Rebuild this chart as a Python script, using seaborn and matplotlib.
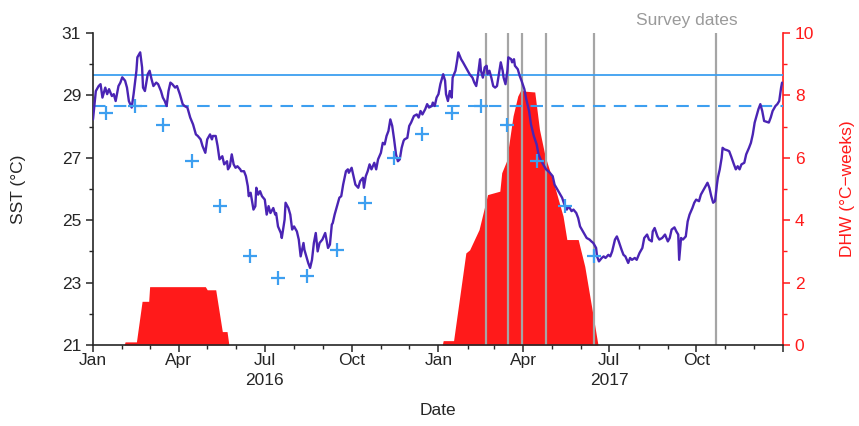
import matplotlib
matplotlib.use("Agg")
import matplotlib.pyplot as plt
import matplotlib.dates as mdates
from matplotlib.ticker import MultipleLocator, FuncFormatter
import pandas as pd
import seaborn as sns

# --- Data ---
START = pd.Timestamp("2016-01-01")

# daily-ish SST trace, days since 2016-01-01
sst_day = [0, 3, 6, 8, 10, 13, 15, 17, 20, 22, 24, 27, 29, 31, 34, 36, 38, 41, 43, 46,
           47, 50, 52, 53, 55, 58, 60, 62, 64, 67, 69, 72, 74, 76, 78, 80, 82, 84, 87, 89,
           92, 95, 97, 100, 103, 106, 109, 111, 114, 116, 119,
           121, 124, 126, 127, 130, 132, 134, 137, 139, 142, 143, 145, 147, 149, 151, 153, 156, 157, 160, 162,
           164, 165, 167, 170, 172, 173, 175, 177, 179, 182, 184, 186, 188, 191, 193, 194, 196, 199, 200, 203,
           204, 207, 209, 211, 213, 216, 218, 220, 223, 224, 226, 228, 230, 232, 234, 236, 238, 240, 243,
           246, 247, 249, 251, 253, 254, 256, 259, 261, 263, 265, 268, 270, 271, 274, 276, 278, 281, 283, 286,
           287, 289, 291, 293, 295, 298, 300, 302, 305, 307, 309, 311, 313, 315, 317, 319, 321, 323, 325, 327,
           329, 330, 333, 335, 337, 340, 343, 345, 347, 349, 352, 354, 356, 359, 360, 362,
           364, 366, 368, 371, 373, 374, 376, 378, 380, 381, 384, 386, 387, 390, 392, 395, 397, 399, 402, 404,
           406, 408, 410, 411, 413, 415, 417, 418, 420, 422, 424, 426, 428, 430, 432, 434, 435, 437, 439, 440,
           443, 444, 446, 447, 450, 452, 454, 457, 459, 462, 464, 467, 470, 472, 475, 478, 480, 484,
           487, 489, 492, 494, 497, 500, 502, 504, 507, 509, 512, 514, 516, 519, 521, 523, 526, 528, 530, 533,
           534, 536, 539, 541, 543, 546, 548, 550, 553, 555, 557, 560, 562, 564, 567, 569, 571, 574, 576, 579,
           582, 584, 587, 589, 592, 593, 595, 598, 600, 603, 606,
           609, 611, 613, 616, 618, 620, 621, 623, 625, 628, 630, 632, 635, 637, 639, 642, 644, 647, 650, 651,
           653, 655, 657, 659, 661, 662, 664, 666, 667, 669, 672, 674, 676, 679, 681, 683, 685, 687, 690, 692,
           695, 697, 699, 701, 703, 705, 707, 709, 711, 713, 716, 718, 720, 723, 725, 727, 729, 730]
sst_val = [28.23, 29.14, 29.3, 29.36, 28.93, 29.25, 29.04, 29.2, 28.98, 29.04, 28.82, 29.3, 29.41, 29.58, 29.47, 29.25, 28.82, 28.61, 29.04, 29.79,
           30.22, 30.38, 29.9, 29.25, 29.14, 29.68, 29.79, 29.52, 29.3, 29.41, 29.36, 29.14, 28.93, 28.82, 28.66, 29.14, 29.41, 29.36, 29.25, 29.3,
           29.04, 28.72, 28.66, 28.61, 28.29, 28.07, 27.75, 27.7, 27.59, 27.38, 27.16,
           27.59, 27.75, 27.59, 27.7, 27.7, 27.38, 26.95, 27.05, 26.79, 26.89, 26.63, 26.73, 27.11, 26.79, 26.68, 26.73, 26.63, 26.57, 26.57, 26.41,
           26.09, 25.77, 25.88, 25.34, 25.45, 26.04, 25.82, 25.93, 25.77, 25.66, 25.18, 25.45, 25.23, 25.39, 25.18, 25.23, 24.8, 24.59, 24.43, 25.02,
           25.56, 25.39, 25.18, 24.7, 24.8, 24.64, 24.38, 23.84, 24.27, 24.05, 23.84, 23.63, 23.47, 23.73, 24.27, 24.59, 24.0, 24.27, 24.38,
           24.59, 24.43, 24.11, 24.22, 24.86, 24.91, 25.18, 25.5, 25.72, 25.77, 26.14, 26.57, 26.63, 26.52, 26.68, 26.41, 26.14, 26.04, 26.25, 26.36,
           26.04, 26.41, 26.57, 26.79, 26.63, 26.84, 26.63, 26.95, 27.16, 27.48, 27.43, 27.7, 27.86, 28.23, 28.02, 27.59, 27.11, 26.89, 26.95, 27.32,
           27.54, 27.59, 27.64, 28.02, 28.13, 28.34, 28.39, 28.29, 28.5, 28.39, 28.56, 28.72, 28.61, 28.66, 28.77, 28.66,
           28.93, 29.04, 29.36, 29.68, 29.47, 29.04, 28.82, 29.14, 28.93, 29.57, 29.79, 30.16, 30.38, 30.16, 30.06, 29.9, 29.79, 29.68, 29.57, 29.41,
           29.3, 29.68, 30.16, 29.79, 29.57, 29.9, 29.95, 29.68, 29.79, 29.57, 29.3, 29.25, 29.3, 29.68, 30.06, 29.79, 29.57, 29.36, 29.79, 30.22,
           30.16, 30.06, 30.16, 29.95, 29.84, 29.63, 29.47, 29.2, 28.88, 28.5, 28.07, 27.7, 27.43, 27.11, 26.89, 26.73, 26.63, 26.52,
           26.41, 26.14, 25.98, 25.88, 25.72, 25.45, 25.34, 25.45, 25.29, 25.34, 25.23, 25.07, 24.8, 24.64, 24.54, 24.43, 24.38, 24.32, 24.27, 24.11,
           23.84, 23.68, 23.79, 23.84, 23.79, 23.89, 23.84, 24.0, 24.38, 24.48, 24.32, 24.05, 23.89, 23.84, 23.63, 23.79, 23.73, 23.79, 23.73, 23.95,
           24.11, 24.43, 24.54, 24.38, 24.32, 24.64, 24.75, 24.48, 24.38, 24.43, 24.54,
           24.32, 24.43, 24.7, 24.77, 24.64, 24.54, 23.73, 24.43, 24.38, 24.48, 24.96, 25.18, 25.39, 25.56, 25.66, 25.61, 25.82, 25.98, 26.14, 26.2,
           26.04, 25.77, 25.56, 25.61, 26.14, 26.36, 26.63, 27.0, 27.32, 27.27, 27.24, 27.21, 27.05, 26.79, 26.63, 26.73, 26.63, 26.79, 26.84, 27.11,
           27.32, 27.48, 27.75, 28.13, 28.34, 28.56, 28.72, 28.5, 28.18, 28.16, 28.13, 28.29, 28.5, 28.66, 28.72, 28.82, 29.25, 29.41]

# monthly climatology (mid-month), Jan..Dec
clim_sst = [28.45, 28.65, 28.05, 26.9, 25.45, 23.85, 23.15, 23.2, 24.05, 25.55, 27.0, 27.75]
clim_months = 18  # Jan 2016 .. Jun 2017

# degree heating weeks, days since 2016-01-01
dhw_day = [33, 34, 46, 52, 59, 60, 119, 121, 130, 137, 142, 144,
           370, 371, 382, 395, 399, 409, 418, 431, 433, 438, 445, 450, 454, 456,
           468, 473, 479, 489, 498, 502, 514, 521, 530, 535]
dhw_val = [0, 0.1, 0.1, 1.4, 1.4, 1.87, 1.87, 1.77, 1.77, 0.43, 0.43, 0,
           0, 0.14, 0.14, 2.95, 3.05, 3.7, 4.82, 4.93, 5.52, 5.89, 7.34, 7.98, 8.22, 8.14,
           8.11, 6.91, 6.05, 5.09, 4.13, 3.38, 3.38, 2.52, 0.91, 0]

survey_dates = ["2017-02-20", "2017-03-16", "2017-03-30", "2017-04-25", "2017-06-15", "2017-10-22"]
year_labels = ["2016", "2017"]

mmm = 28.65              # max monthly mean
bleach = mmm + 1.0       # bleaching threshold

# --- Build frames ---
sst = pd.DataFrame({"date": START + pd.to_timedelta(sst_day, unit="D"), "sst": sst_val})
clim = pd.DataFrame({
    "date": pd.date_range("2016-01-01", periods=clim_months, freq="MS") + pd.Timedelta(days=14),
    "sst": [clim_sst[i % 12] for i in range(clim_months)],
})
dhw_dates = START + pd.to_timedelta(dhw_day, unit="D")

# --- Plot ---
FS = 12.5
sns.set_style("ticks")
plt.rcParams["font.family"] = ["Liberation Sans", "DejaVu Sans"]
plt.rcParams["font.size"] = FS

fig = plt.figure(figsize=(8.59, 4.26), dpi=100)
ax = fig.add_axes([93 / 859, 81 / 426, 690 / 859, 312 / 426])
ax2 = ax.twinx()
ax.set_zorder(ax2.get_zorder() + 1)
ax.patch.set_visible(False)

RED = "#ff1a1a"
BLUE = "#3d9ff0"
PURPLE = "#4a24b4"
GRAY = "#a5a5a5"

# DHW area on the right axis
ax2.fill_between(dhw_dates, dhw_val, 0, color=RED, lw=0)

# survey lines
for d in survey_dates:
    ax.axvline(pd.Timestamp(d), color=GRAY, lw=1.6, zorder=1)

ax.axhline(bleach, color=BLUE, lw=1.3, zorder=2)
ax.axhline(mmm, color=BLUE, lw=1.5, ls=(0, (6, 4)), zorder=2)

sns.lineplot(data=sst, x="date", y="sst", ax=ax, color=PURPLE, lw=1.7, zorder=4)
sns.scatterplot(data=clim, x="date", y="sst", ax=ax, marker="+", s=115,
                color=BLUE, linewidth=1.6, zorder=5)

# axes limits and ticks
ax.set_xlim(START, pd.Timestamp("2018-01-01"))
ax.set_ylim(21, 31)
ax2.set_ylim(0, 10)

ax.set_yticks(range(21, 32, 2))
ax.yaxis.set_minor_locator(MultipleLocator(1))
ax2.set_yticks(range(0, 11, 2))
ax2.yaxis.set_minor_locator(MultipleLocator(1))

ax.xaxis.set_major_locator(mdates.MonthLocator(bymonth=[1, 4, 7, 10]))
ax.xaxis.set_minor_locator(mdates.MonthLocator())


def month_fmt(v, pos):
    d = mdates.num2date(v)
    if d.year > 2017:
        return ""
    return d.strftime("%b")


ax.xaxis.set_major_formatter(FuncFormatter(month_fmt))

# year under each July
for yr in year_labels:
    ax.text(pd.Timestamp(yr + "-07-01"), -0.115, yr, transform=ax.get_xaxis_transform(),
            ha="center", va="center", fontsize=FS)

for a in (ax, ax2):
    a.spines["top"].set_visible(False)
ax.spines["right"].set_visible(False)
ax2.spines["left"].set_visible(False)
ax2.spines["bottom"].set_visible(False)
ax2.spines["right"].set_color(RED)
ax2.spines["right"].set_linewidth(1.2)
ax.spines["left"].set_linewidth(1.2)
ax.spines["bottom"].set_linewidth(1.2)

ax.tick_params(which="major", length=5, width=1.1, direction="out", labelsize=FS)
ax.tick_params(axis="x", which="major", pad=1.0)
ax.tick_params(which="minor", length=3, width=1.0, direction="out")
ax2.tick_params(which="major", length=5, width=1.1, colors=RED, labelsize=FS)
ax2.tick_params(which="minor", length=3, width=1.0, colors=RED)

ax.set_xlabel("Date", fontsize=FS)
ax.xaxis.set_label_coords(0.5, -0.185)
ax.set_ylabel("SST (°C)", fontsize=FS)
ax.yaxis.set_label_coords(-0.097, 0.5)
ax2.set_ylabel("DHW (°C\u2212weeks)", fontsize=FS, color=RED)
ax2.yaxis.set_label_coords(1.082, 0.5)

fig.text(687 / 859, 1 - 20 / 426, "Survey dates", color="#9a9a9a", fontsize=FS,
         ha="center", va="center")

fig.savefig("out.png", dpi=100, facecolor="white")
